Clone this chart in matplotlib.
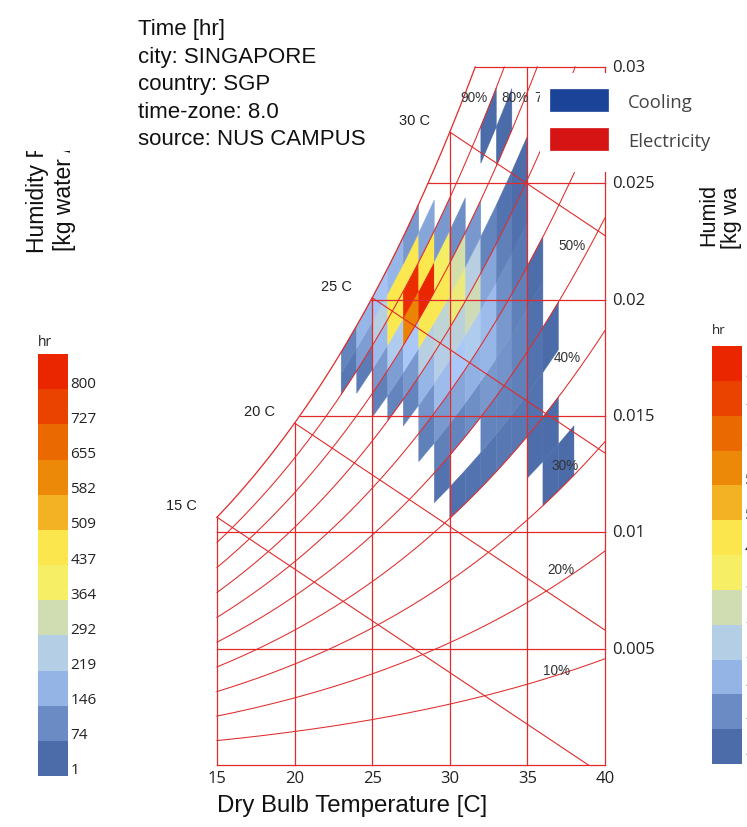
import numpy as np
import matplotlib
matplotlib.use("Agg")
import matplotlib.pyplot as plt
from matplotlib.colors import LinearSegmentedColormap, Normalize
from matplotlib.patches import Polygon, Rectangle
from matplotlib.transforms import Bbox, TransformedBbox

# ---------------- data ----------------
rh_bins = [30, 35, 40, 45, 50, 55, 60, 65, 70, 75, 80, 85, 90, 95]   # lower bound of 5% RH bins
#        30  35  40  45  50   55   60   65   70   75   80   85   90   95
hr_23 = [0, 0, 0, 0, 0, 0, 0, 0, 0, 0, 0, 0, 30, 60]
hr_24 = [0, 0, 0, 0, 0, 0, 0, 0, 0, 0, 0, 40, 110, 150]
hr_25 = [0, 0, 0, 0, 0, 0, 0, 0, 0, 50, 100, 160, 230, 170]
hr_26 = [0, 0, 0, 0, 0, 0, 0, 0, 60, 110, 200, 420, 440, 150]
hr_27 = [0, 0, 0, 0, 0, 0, 0, 60, 100, 180, 600, 780, 430, 100]
hr_28 = [0, 0, 0, 0, 0, 50, 90, 150, 230, 420, 800, 440, 120, 0]
hr_29 = [0, 0, 0, 20, 50, 100, 160, 220, 260, 420, 370, 100, 0, 0]
hr_30 = [0, 0, 15, 0, 60, 120, 180, 240, 340, 300, 80, 0, 0, 0]
hr_31 = [0, 0, 20, 0, 80, 140, 200, 290, 230, 100, 0, 0, 0, 0]
hr_32 = [0, 0, 25, 60, 100, 150, 160, 120, 60, 0, 0, 3, 0, 0]
hr_33 = [0, 0, 30, 60, 90, 100, 80, 50, 20, 0, 3, 0, 0, 0]
hr_34 = [0, 0, 30, 50, 60, 50, 30, 15, 5, 0, 0, 0, 0, 0]
hr_35 = [0, 10, 20, 20, 15, 8, 0, 0, 0, 0, 0, 0, 0, 0]
hr_36 = [5, 5, 0, 3, 0, 0, 0, 0, 0, 0, 0, 0, 0, 0]
hr_37 = [3, 0, 0, 0, 0, 0, 0, 0, 0, 0, 0, 0, 0, 0]
dry_bulb = [23, 24, 25, 26, 27, 28, 29, 30, 31, 32, 33, 34, 35, 36, 37]
hours = np.array([hr_23, hr_24, hr_25, hr_26, hr_27, hr_28, hr_29, hr_30,
                  hr_31, hr_32, hr_33, hr_34, hr_35, hr_36, hr_37], dtype=float)

legend_values = [1, 74, 146, 219, 292, 364, 437, 509, 582, 655, 727, 800]
x_ticks = [15, 20, 25, 30, 35, 40]
y_ticks = [0.005, 0.01, 0.015, 0.02, 0.025, 0.03]
y_tick_labels = ["0.005", "0.01", "0.015", "0.02", "0.025", "0.03"]
rh_lines = [10, 20, 30, 40, 50, 60, 70, 80, 90]
wb_lines = [15, 20, 25, 30]
header = ["Time [hr]", "city: SINGAPORE", "country: SGP", "time-zone: 8.0",
          "source: NUS CAMPUS"]
series_names = ["Cooling", "Electricity"]
series_colors = ["#1b4498", "#d71414"]

lb_colors = [(75, 107, 169), (115, 147, 202), (170, 200, 247), (193, 213, 208),
             (245, 239, 103), (252, 230, 74), (239, 156, 21), (234, 123, 0),
             (234, 74, 0), (234, 38, 0)]

# ---------------- psychrometrics ----------------
P_ATM = 101.325


def psat(t):
    tk = np.asarray(t, dtype=float) + 273.15
    ln = (-5.8002206e3 / tk + 1.3914993 - 4.8640239e-2 * tk + 4.1764768e-5 * tk ** 2
          - 1.4452093e-8 * tk ** 3 + 6.5459673 * np.log(tk))
    return np.exp(ln) / 1000.0


def hum_ratio(t, rh):
    pw = rh * psat(t)
    return 0.622 * pw / (P_ATM - pw)


def t_sat(w):
    tt = np.linspace(0, 50, 50001)
    return np.interp(w, hum_ratio(tt, 1.0), tt)


# ---------------- figure ----------------
FW, FH = 747, 828
fig = plt.figure(figsize=(FW / 100, FH / 100), dpi=100)


def fx(px):
    return px / FW


def fy(py):
    return 1 - py / FH


ax = fig.add_axes([fx(217), fy(766), fx(605) - fx(217), fy(68) - fy(766)])
ax.set_xlim(15, 40)
ax.set_ylim(0, 0.03)
ax.axis("off")

cmap = LinearSegmentedColormap.from_list("lb", [tuple(c / 255 for c in col) for col in lb_colors])
norm = Normalize(vmin=1, vmax=800)

# heat map cells (1 C x 5 % RH)
for i, t0 in enumerate(dry_bulb):
    for j, r0 in enumerate(rh_bins):
        v = hours[i, j]
        if v <= 0:
            continue
        r1 = min(r0 + 5, 100) / 100.0
        rr = r0 / 100.0
        pts = [(t0, hum_ratio(t0, rr)), (t0 + 1, hum_ratio(t0 + 1, rr)),
               (t0 + 1, hum_ratio(t0 + 1, r1)), (t0, hum_ratio(t0, r1))]
        ax.add_patch(Polygon(pts, closed=True, facecolor=cmap(norm(v)),
                             edgecolor=cmap(norm(v)), linewidth=0.3, zorder=1))

LC = "#e12a2a"
LW = 0.9
# vertical grid
for t in x_ticks:
    ax.plot([t, t], [0, min(hum_ratio(t, 1.0), 0.03)], color=LC, lw=LW, zorder=3, clip_on=False)
# horizontal grid
for w in [0.0] + y_ticks:
    ax.plot([max(15, t_sat(w)), 40], [w, w], color=LC, lw=LW, zorder=3, clip_on=False)
# saturation curve
tt = np.linspace(15, t_sat(0.03), 300)
ax.plot(tt, hum_ratio(tt, 1.0), color=LC, lw=LW, zorder=3, clip_on=False)
# RH curves
for rh in rh_lines:
    tt = np.linspace(15, 40, 600)
    ww = hum_ratio(tt, rh / 100)
    m = ww <= 0.03
    if not m.all():
        tend = np.interp(0.03, ww, tt)
        tt = np.append(tt[m], tend)
        ww = np.append(ww[m], 0.03)
    ax.plot(tt, ww, color=LC, lw=0.75, zorder=3, clip_on=False)
# wet bulb lines
WB_SLOPE = -0.000445
for twb in wb_lines:
    w0 = hum_ratio(twb, 1.0)
    t_end = min(40, twb - w0 / WB_SLOPE)
    ax.plot([twb, t_end], [w0, w0 + WB_SLOPE * (t_end - twb)], color=LC, lw=0.8, zorder=3, clip_on=False)
    ax.annotate(f"{twb} C", (twb, w0), xytext=(-20, 12), textcoords="offset pixels",
                ha="right", va="center", fontsize=10.5, family="Liberation Sans", color="#222222")

# RH labels
rh_lab_pos = {90: (31.55, 0.02871), 80: (34.19, 0.02871), 70: (36.31, 0.02871),
              50: (37.86, 0.02236), 40: (37.60, 0.01755), 30: (37.41, 0.01288),
              20: (37.15, 0.00841), 10: (36.91, 0.00409)}
for rh, (lx, ly) in rh_lab_pos.items():
    ax.text(lx, ly, f"{rh}%", ha="center", va="center", fontsize=9.8,
            family="Liberation Sans", color="#333333", zorder=4)

# ticks
for t in x_ticks:
    ax.text(t, -0.00056, str(t), ha="center", va="center", fontsize=12,
            family="Open Sans", color="#222222", clip_on=False)
for w, lab in zip(y_ticks, y_tick_labels):
    ax.text(40.45, w, lab, ha="left", va="center", fontsize=12,
            family="Open Sans", color="#222222", clip_on=False)

fig.text(fx(217), fy(806), "Dry Bulb Temperature [C]", ha="left", va="center",
         fontsize=17.3, family="Liberation Sans", color="#111111")

# header
for k, line in enumerate(header):
    fig.text(fx(138), fy(35 + 27.6 * k), line, ha="left", va="baseline",
             fontsize=16, family="Liberation Sans", color="#111111")

# series legend box
fig.patches.append(Rectangle((fx(540), fy(173)), fx(747) - fx(540), fy(74) - fy(173),
                             transform=fig.transFigure, facecolor="white", edgecolor="none", zorder=5))
for k, (nm, col) in enumerate(zip(series_names, series_colors)):
    ytop = 90 + 39 * k
    fig.patches.append(Rectangle((fx(550), fy(ytop + 22)), fx(608) - fx(550), fy(ytop) - fy(ytop + 22),
                                 transform=fig.transFigure, facecolor=col, edgecolor=col,
                                 lw=0.5, zorder=6))
    fig.text(fx(628), fy(ytop + 13), nm, ha="left", va="center", fontsize=13.3,
             family="Open Sans", color="#444444", zorder=7)


# colour legends
def draw_legend(x0, x1, ytop, ybot, lab_x, hr_y, fs):
    n = len(legend_values)
    seg = (ybot - ytop) / n
    for k, val in enumerate(legend_values):
        c = cmap(k / (n - 1))
        yb = ybot - k * seg
        fig.patches.append(Rectangle((fx(x0), fy(yb)), fx(x1) - fx(x0), fy(yb - seg) - fy(yb),
                                     transform=fig.transFigure, facecolor=c, edgecolor="none"))
        fig.text(fx(lab_x), fy(yb - 6), str(val), ha="left", va="center", fontsize=fs,
                 family="Open Sans", color="#222222")
    fig.text(fx(x0), fy(hr_y), "hr", ha="left", va="center", fontsize=fs - 1,
             family="Open Sans", color="#222222")


draw_legend(38, 68, 355, 777, 70.5, 342, 11)
draw_legend(712, 742, 347, 765, 745, 331, 10.5)


# clipped axis titles (cut in the source image)
def clipped_text(x, y, s, top_clip, fs, right_clip=FW):
    t = fig.text(fx(x), fy(y), s, rotation=90, ha="center", va="bottom", fontsize=fs,
                 family="Liberation Sans", color="#111111")
    bb = Bbox([[0, 0], [fx(right_clip), fy(top_clip)]])
    t.set_clip_box(TransformedBbox(bb, fig.transFigure))
    t.set_clip_on(True)


clipped_text(38, 253, "Humidity Ratio", 152, 16.5)
clipped_text(65, 251, "[kg water / kg air]", 152, 16.5)
clipped_text(709, 246, "Humidity", 188, 15.5)
clipped_text(731, 249, "[kg water", 189, 15.5)
fig.text(fx(739), fy(82), "-]", rotation=90, ha="center", va="bottom", fontsize=12,
         family="Liberation Sans", color="#111111")

fig.savefig("out.png", dpi=100, facecolor="white")
